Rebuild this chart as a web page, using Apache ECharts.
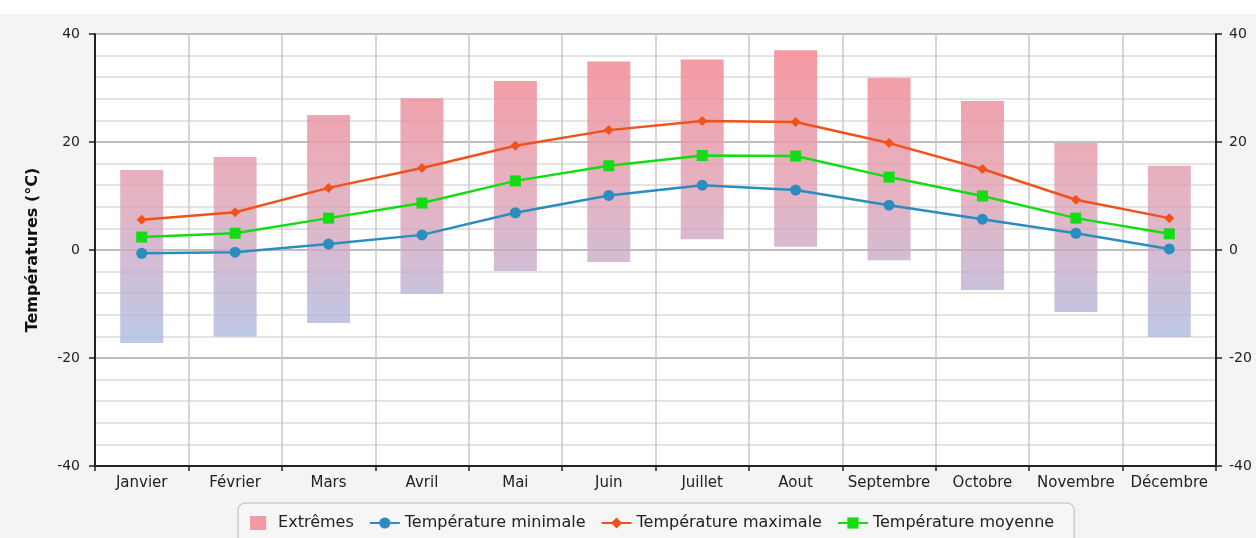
<!DOCTYPE html>
<html>
<head>
<meta charset="utf-8">
<script src="https://cdn.jsdelivr.net/npm/echarts@6/dist/echarts.min.js"></script>
<style>
html,body{margin:0;padding:0;background:#fff;}
#c{width:1256px;height:538px;}
</style>
</head>
<body>
<div id="c"></div>
<script>
const months = ['Janvier','Février','Mars','Avril','Mai','Juin','Juillet','Aout','Septembre','Octobre','Novembre','Décembre'];
const extremeMin = [-17.2, -16.0, -13.5, -8.1, -3.9, -2.2, 2.0, 0.6, -1.9, -7.4, -11.5, -16.1];
const extremeMax = [14.8, 17.2, 25.0, 28.1, 31.3, 34.9, 35.3, 37.0, 31.9, 27.6, 19.8, 15.6];
const tempMin = [-0.6, -0.4, 1.1, 2.8, 6.9, 10.1, 12.0, 11.1, 8.3, 5.7, 3.1, 0.2];
const tempMax = [5.6, 7.0, 11.5, 15.2, 19.3, 22.2, 23.9, 23.7, 19.8, 15.0, 9.3, 5.9];
const tempMean = [2.4, 3.1, 5.9, 8.7, 12.8, 15.6, 17.5, 17.4, 13.5, 10.0, 5.9, 3.0];
const yMin = -40, yMax = 40, yStep = 20;

const font = 'DejaVu Sans';
const chart = echarts.init(document.getElementById('c'), null, {renderer: 'canvas'});

const extremeData = months.map((m, i) => [i, extremeMin[i], extremeMax[i]]);

function renderRange(params, api) {
  const i = api.value(0);
  const lo = api.coord([i, api.value(1)]);
  const hi = api.coord([i, api.value(2)]);
  const w = api.size([1, 0])[0] * 0.46;
  const gTop = api.coord([i, 40])[1];
  const gBot = api.coord([i, -20])[1];
  return {
    type: 'rect',
    shape: {x: lo[0] - w / 2, y: hi[1], width: w, height: lo[1] - hi[1]},
    style: {
      fill: new echarts.graphic.LinearGradient(0, gTop, 0, gBot, [
        {offset: 0, color: 'rgba(247,136,142,0.88)'},
        {offset: 0.5, color: 'rgba(222,158,178,0.78)'},
        {offset: 1, color: 'rgba(165,190,232,0.8)'}
      ], true)
    }
  };
}

const option = {
  backgroundColor: '#ffffff',
  animation: false,
  textStyle: {fontFamily: font},
  graphic: [{
    type: 'rect', z: -10, silent: true,
    shape: {x: 0, y: 14, width: 1256, height: 524},
    style: {fill: '#f4f4f4'}
  }],
  grid: {
    left: 95, right: 40, top: 34, bottom: 72,
    show: true, backgroundColor: '#ffffff', borderWidth: 0
  },
  legend: {
    left: 238, top: 503,
    padding: [12, 20, 16, 12],
    itemGap: 15,
    itemWidth: 30, itemHeight: 14,
    borderColor: '#b8b8b8', borderWidth: 1, borderRadius: 7,
    backgroundColor: '#f6f6f6',
    textStyle: {fontFamily: font, fontSize: 16, color: '#222'},
    data: [
      {name: 'Extrêmes', icon: 'path://M0,0h22v19h-22z'},
      {name: 'Température minimale'},
      {name: 'Température maximale'},
      {name: 'Température moyenne'}
    ]
  },
  xAxis: {
    type: 'category',
    data: months,
    boundaryGap: true,
    axisLine: {onZero: false, lineStyle: {color: '#222', width: 2}},
    axisTick: {show: true, alignWithLabel: false, length: 5, lineStyle: {color: '#222', width: 1.5}},
    axisLabel: {fontFamily: font, fontSize: 15, color: '#222', margin: 10, interval: 0},
    splitLine: {show: true, interval: 0, lineStyle: {color: '#c8c8c8', width: 1.5}}
  },
  yAxis: [{
    type: 'value', min: yMin, max: yMax, interval: yStep,
    name: 'Températures (°C)', nameLocation: 'middle', nameGap: 54, nameRotate: 90,
    nameTextStyle: {fontFamily: font, fontSize: 16, fontWeight: 'bold', color: '#111'},
    axisLine: {show: true, onZero: false, lineStyle: {color: '#222', width: 2}},
    axisTick: {show: true, length: 6, lineStyle: {color: '#222', width: 1.5}},
    axisLabel: {fontFamily: font, fontSize: 14, color: '#222', margin: 15},
    splitLine: {show: true, lineStyle: {color: '#a8a8a8', width: 1.5}},
    minorTick: {show: false, splitNumber: 5},
    minorSplitLine: {show: true, lineStyle: {color: '#dcdcdc', width: 1.5}}
  }, {
    type: 'value', min: yMin, max: yMax, interval: yStep, position: 'right',
    axisLine: {show: true, onZero: false, lineStyle: {color: '#222', width: 2}},
    axisTick: {show: true, length: 6, lineStyle: {color: '#222', width: 1.5}},
    axisLabel: {fontFamily: font, fontSize: 14, color: '#222', margin: 13},
    splitLine: {show: false}
  }],
  series: [{
    name: 'Extrêmes',
    type: 'custom',
    renderItem: renderRange,
    itemStyle: {color: '#f49aa2'},
    encode: {x: 0, y: [1, 2]},
    data: extremeData,
    z: 1
  }, {
    name: 'Température minimale',
    type: 'line', data: tempMin,
    symbol: 'circle', symbolSize: 11,
    lineStyle: {color: '#2b8dbf', width: 2.5},
    itemStyle: {color: '#2b8dbf'},
    z: 3
  }, {
    name: 'Température maximale',
    type: 'line', data: tempMax,
    symbol: 'diamond', symbolSize: 10,
    lineStyle: {color: '#f0521c', width: 2.5},
    itemStyle: {color: '#f0521c'},
    z: 3
  }, {
    name: 'Température moyenne',
    type: 'line', data: tempMean,
    symbol: 'rect', symbolSize: 11,
    lineStyle: {color: '#14dc14', width: 2.5},
    itemStyle: {color: '#14dc14'},
    z: 3
  }]
};
chart.setOption(option);
</script>
</body>
</html>
